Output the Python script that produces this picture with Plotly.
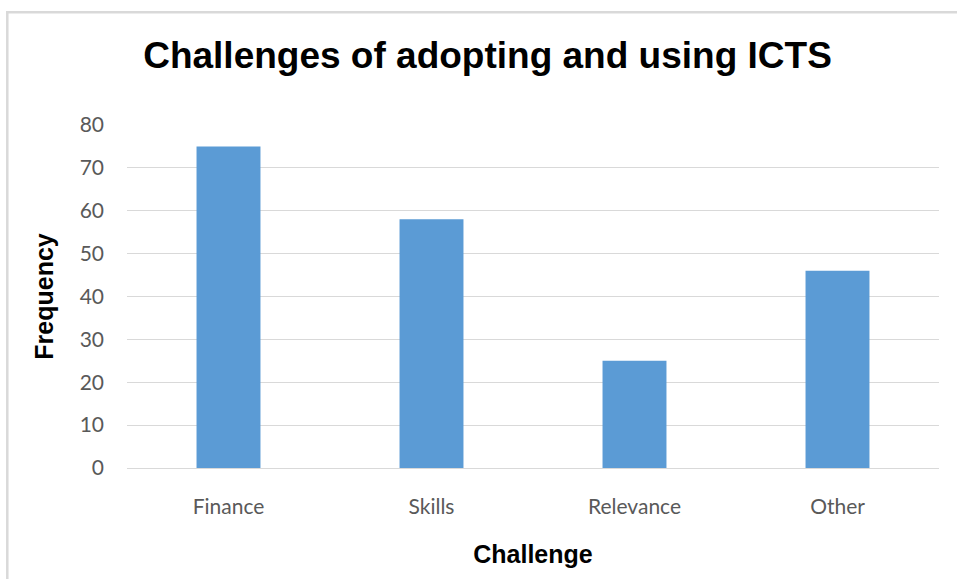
import plotly.graph_objects as go

# Survey results
challenges = ["Finance", "Skills", "Relevance", "Other"]
frequency = [75, 58, 25, 46]
y_ticks = [0, 10, 20, 30, 40, 50, 60, 70, 80]

W, H = 957, 579
ML, MR, MT, MB = 127, 18, 125, 111
plot_w = W - ML - MR
plot_h = H - MT - MB


def px_x(px):
    return (px - ML) / plot_w


def px_y(py):
    return (H - MB - py) / plot_h


fig = go.Figure(
    go.Bar(
        x=challenges,
        y=frequency,
        marker=dict(color="#5B9BD5", line=dict(width=0)),
        hoverinfo="x+y",
    )
)

grid = "#d9d9d9"
fig.update_layout(
    width=W,
    height=H,
    margin=dict(l=ML, r=MR, t=MT, b=MB),
    paper_bgcolor="white",
    plot_bgcolor="white",
    bargap=0.685,
    showlegend=False,
    title=dict(
        text="<b>Challenges of adopting and using ICTS</b>",
        font=dict(family="Liberation Sans, Arial, sans-serif", size=37, color="black"),
        x=487.5 / W,
        xanchor="center",
        y=1 - 55 / H,
        yanchor="middle",
    ),
    xaxis=dict(
        showgrid=False,
        showline=True,
        linecolor=grid,
        linewidth=1,
        ticks="",
        ticklabelstandoff=20,
        tickfont=dict(family="Lato, sans-serif", size=21, color="#595959"),
        title=dict(
            text="<b>Challenge</b>",
            font=dict(family="Liberation Sans, Arial, sans-serif", size=25, color="black"),
            standoff=28,
        ),
    ),
    yaxis=dict(
        range=[0, 80],
        tickvals=y_ticks,
        showgrid=True,
        gridcolor=grid,
        gridwidth=1,
        zeroline=False,
        showline=False,
        ticks="",
        ticklabelstandoff=22,
        tickfont=dict(family="Lato, sans-serif", size=21, color="#595959"),
        title=dict(
            text="<b>Frequency</b>",
            font=dict(family="Liberation Sans, Arial, sans-serif", size=25, color="black"),
            standoff=18,
        ),
    ),
    shapes=[
        # chart frame (top and left edges)
        dict(type="line", xref="paper", yref="paper",
             x0=px_x(6), x1=px_x(W + 5), y0=px_y(12.3), y1=px_y(12.3),
             line=dict(color=grid, width=2.5)),
        dict(type="line", xref="paper", yref="paper",
             x0=px_x(7.3), x1=px_x(7.3), y0=px_y(11), y1=px_y(H + 5),
             line=dict(color=grid, width=2.5)),
    ],
)

fig.write_html("out.html")
